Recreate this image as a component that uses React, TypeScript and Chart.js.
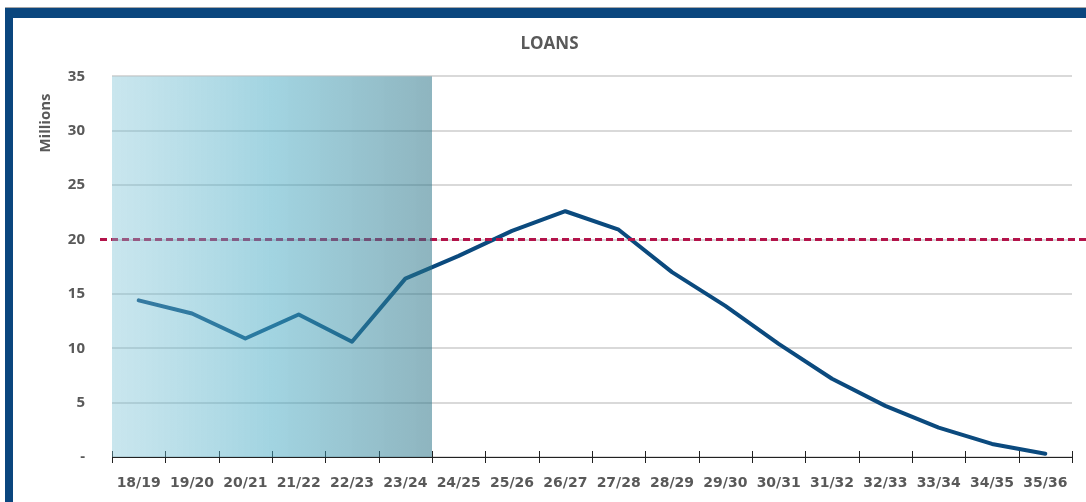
import React, { useEffect, useRef } from "react";
import { Chart, registerables } from "chart.js";

Chart.register(...registerables);

const categories = [
  "18/19", "19/20", "20/21", "21/22", "22/23", "23/24", "24/25", "25/26", "26/27",
  "27/28", "28/29", "29/30", "30/31", "31/32", "32/33", "33/34", "34/35", "35/36",
];
const loans = [14.4, 13.2, 10.9, 13.1, 10.6, 16.4, 18.5, 20.8, 22.6, 20.9, 17.0, 13.9, 10.4, 7.2, 4.7, 2.7, 1.2, 0.3];
const thresholdValue = 20;
const historicCount = 6; // 18/19 .. 23/24 shaded
const yTicks = [0, 5, 10, 15, 20, 25, 30, 35];

const decorPlugin = {
  id: "decor",
  afterDatasetsDraw(chart: any) {
    const { ctx, chartArea, scales } = chart;
    const x = scales.x;
    const y = scales.y;
    ctx.save();
    // x-axis tick marks crossing the axis
    const half = (x.getPixelForValue(1) - x.getPixelForValue(0)) / 2;
    ctx.strokeStyle = "#222";
    ctx.lineWidth = 1;
    for (let i = 0; i <= categories.length; i++) {
      const px = Math.round(x.getPixelForValue(0) - half + i * 2 * half) + 0.5;
      ctx.beginPath();
      ctx.moveTo(px, chartArea.bottom - 6);
      ctx.lineTo(px, chartArea.bottom + 6);
      ctx.stroke();
    }
    // dashed threshold line
    const ty = y.getPixelForValue(thresholdValue);
    ctx.strokeStyle = "#b3134a";
    ctx.lineWidth = 3;
    ctx.setLineDash([7, 4]);
    ctx.beginPath();
    ctx.moveTo(chartArea.left - 12, ty);
    ctx.lineTo(chart.width, ty);
    ctx.stroke();
    ctx.setLineDash([]);
    // shaded historic region
    const x0 = chartArea.left;
    const x1 = (x.getPixelForValue(historicCount - 1) + x.getPixelForValue(historicCount)) / 2;
    const top = y.getPixelForValue(35);
    const g = ctx.createLinearGradient(x0, 0, x1, 0);
    g.addColorStop(0, "rgba(120,192,212,0.40)");
    g.addColorStop(0.5, "rgba(69,169,195,0.50)");
    g.addColorStop(1, "rgba(39,113,133,0.52)");
    ctx.fillStyle = g;
    ctx.fillRect(x0, top, x1 - x0, chartArea.bottom - top);
    // y axis title
    ctx.fillStyle = "#595959";
    ctx.font = "bold 15px 'Open Sans'";
    ctx.textAlign = "center";
    ctx.textBaseline = "middle";
    ctx.translate(33, 105);
    ctx.rotate(-Math.PI / 2);
    ctx.fillText("Millions", 0, 0);
    ctx.restore();
  },
};

export default function App() {
  const ref = useRef<HTMLCanvasElement>(null);
  useEffect(() => {
    document.body.style.margin = "0";
    const chart = new Chart(ref.current!, {
      type: "line",
      data: {
        labels: categories,
        datasets: [
          {
            label: "Loans",
            data: loans,
            borderColor: "#0b4a7e",
            borderWidth: 4,
            pointRadius: 0,
            tension: 0,
            borderCapStyle: "round",
            borderJoinStyle: "round",
          },
        ],
      },
      options: {
        responsive: false,
        animation: false,
        layout: { padding: { left: 14, right: 14, top: 0, bottom: 0 } },
        plugins: {
          legend: { display: false },
          tooltip: { enabled: false },
          title: {
            display: true,
            text: "LOANS",
            color: "#595959",
            font: { family: "'Open Sans'", weight: "bold", size: 17 },
            padding: { top: 16, bottom: 22 },
          },
        },
        scales: {
          x: {
            offset: true,
            grid: { display: false, drawTicks: false },
            border: { display: true, color: "#222", width: 1 },
            ticks: {
              color: "#595959",
              font: { family: "'DejaVu Sans'", weight: "bold", size: 14 },
              padding: 18,
              maxRotation: 0,
              autoSkip: false,
            },
            afterFit: (s: any) => {
              s.height = 45;
            },
          },
          y: {
            min: 0,
            max: 35,
            afterBuildTicks: (s: any) => {
              s.ticks = yTicks.map((v) => ({ value: v }));
            },
            grid: { color: "#d9d9d9", lineWidth: 2, drawTicks: false },
            border: { display: false },
            ticks: {
              color: "#595959",
              font: { family: "'Open Sans'", weight: "bold", size: 15 },
              padding: 27,
              callback: (v: any) => (v === 0 ? "-" : String(v)),
            },
            afterFit: (s: any) => {
              s.width = 85;
            },
          },
        },
      },
      plugins: [decorPlugin],
    });
    return () => chart.destroy();
  }, []);

  return (
    <div style={{ position: "relative", width: 1086, height: 502, background: "#fff", overflow: "hidden" }}>
      <div style={{ position: "absolute", left: 5, top: 7, width: 1081, height: 1, background: "#a6a6a6" }} />
      <div style={{ position: "absolute", left: 5, top: 8, width: 1081, height: 10, background: "#0a467e" }} />
      <div style={{ position: "absolute", left: 5, top: 8, width: 8, height: 494, background: "#0a467e" }} />
      <canvas ref={ref} width={1073} height={484} style={{ position: "absolute", left: 13, top: 18 }} />
    </div>
  );
}
